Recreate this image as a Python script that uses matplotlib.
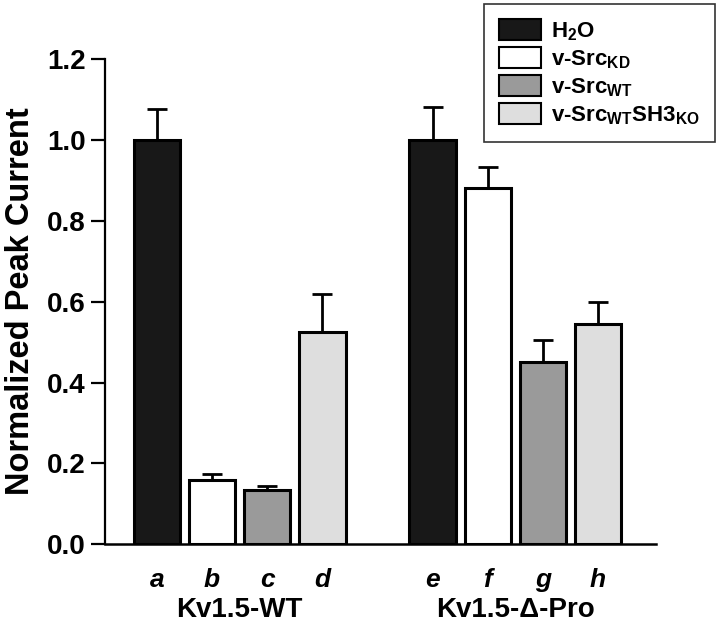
import matplotlib.pyplot as plt
import numpy as np
from matplotlib.patches import Patch

plt.rcParams['font.family'] = ['Liberation Sans', 'DejaVu Sans']
plt.rcParams['mathtext.fontset'] = 'custom'
plt.rcParams['mathtext.rm'] = 'Liberation Sans:bold'
plt.rcParams['mathtext.bf'] = 'Liberation Sans:bold'
plt.rcParams['mathtext.it'] = 'Liberation Sans:bold:italic'

# data
bar_letters = ['a', 'b', 'c', 'd', 'e', 'f', 'g', 'h']
positions = [0, 1, 2, 3, 5, 6, 7, 8]
values = [1.00, 0.16, 0.135, 0.525, 1.00, 0.88, 0.45, 0.545]
errors = [0.075, 0.013, 0.01, 0.095, 0.08, 0.052, 0.055, 0.055]
treatment = [0, 1, 2, 3, 0, 1, 2, 3]
groups = ['Kv1.5-WT', 'Kv1.5-\u0394-Pro']
group_centers = [1.5, 6.5]
legend_labels = ['H$_2$O', 'v-Src$_{\\mathrm{KD}}$', 'v-Src$_{\\mathrm{WT}}$',
                 'v-Src$_{\\mathrm{WT}}$SH3$_{\\mathrm{KO}}$']
colors = ['#181818', '#ffffff', '#9a9a9a', '#dedede']

fig = plt.figure(figsize=(7.2, 6.33), dpi=100)
ax = fig.add_axes([0.146, 0.14, 0.765, 0.767])

bar_colors = [colors[t] for t in treatment]
ax.bar(positions, values, width=0.84, color=bar_colors, edgecolor='black',
       linewidth=2.2, zorder=2)
ax.errorbar(positions, values, yerr=[np.zeros(len(errors)), errors], fmt='none',
            ecolor='black', elinewidth=2, capsize=7, capthick=2, zorder=3)

ax.set_ylim(0, 1.2)
ax.set_xlim(-0.94, 9.05)
ax.set_yticks([0.0, 0.2, 0.4, 0.6, 0.8, 1.0, 1.2])
ax.set_yticklabels(['0.0', '0.2', '0.4', '0.6', '0.8', '1.0', '1.2'],
                   fontsize=20, fontweight='heavy')
ax.tick_params(axis='y', direction='out', length=10, width=1.6, pad=4)
ax.set_xticks([])
ax.spines['top'].set_visible(False)
ax.spines['right'].set_visible(False)
ax.spines['left'].set_linewidth(1.6)
ax.spines['bottom'].set_linewidth(1.8)
ax.set_ylabel('Normalized Peak Current', fontsize=23.5, fontweight='bold',
              labelpad=8)

for p, lab in zip(positions, bar_letters):
    ax.text(p, -0.048, lab, transform=ax.get_xaxis_transform(), ha='center',
            va='top', fontsize=19, fontweight='bold', fontstyle='italic')
for c, g in zip(group_centers, groups):
    ax.text(c, -0.108, g, transform=ax.get_xaxis_transform(), ha='center',
            va='top', fontsize=20, fontweight='bold')

handles = [Patch(facecolor=c, edgecolor='black', linewidth=1.5) for c in colors]
leg = fig.legend(handles, legend_labels, loc='upper right',
                 bbox_to_anchor=(0.993, 0.994), fancybox=False, framealpha=1,
                 edgecolor='#333333', prop={'size': 16, 'weight': 'bold'},
                 handlelength=1.85, handleheight=1.05, labelspacing=0.2,
                 borderpad=0.7, handletextpad=0.45, borderaxespad=0)
leg.get_frame().set_linewidth(1.2)

plt.savefig('out.png', dpi=100)
